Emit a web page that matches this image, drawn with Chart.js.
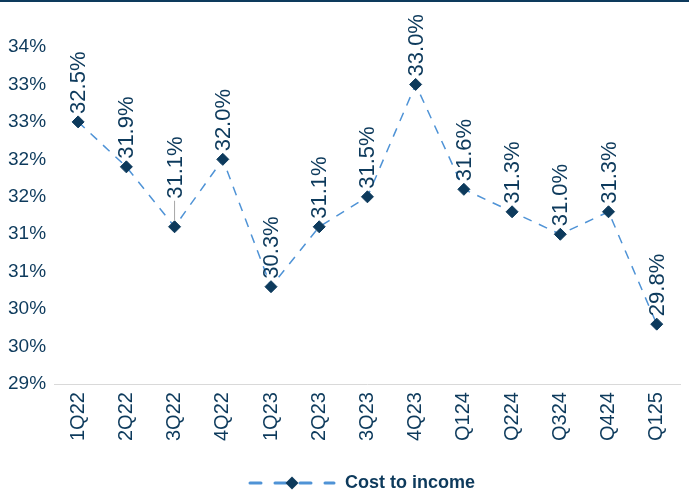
<!DOCTYPE html>
<html>
<head>
<meta charset="utf-8">
<script src="https://cdn.jsdelivr.net/npm/chart.js@4"></script>
<style>
  html, body { margin: 0; padding: 0; background: #fff; overflow: hidden; }
  #wrap { width: 689px; height: 500px; border-top: 2px solid #0d3a5c; }
</style>
</head>
<body>
<div id="wrap"><canvas id="myChart" width="689" height="500"></canvas></div>
<script>
// datos del grafico
const quarters = ['1Q22', '2Q22', '3Q22', '4Q22', '1Q23', '2Q23', '3Q23', '4Q23', 'Q124', 'Q224', 'Q324', 'Q424', 'Q125'];
const costToIncome = [32.5, 31.9, 31.1, 32.0, 30.3, 31.1, 31.5, 33.0, 31.6, 31.3, 31.0, 31.3, 29.8];
const seriesName = 'Cost to income';

const navy = '#0d3a5c';
const lineBlue = '#4f93d6';
Chart.defaults.font.family = '"Liberation Sans", Arial, sans-serif';
Chart.defaults.color = navy;

// icono de la leyenda: linea punteada con rombo (con margen a la izquierda)
const legendIcon = document.createElement('canvas');
legendIcon.width = 124;
legendIcon.height = 14;
(function () {
  const c = legendIcon.getContext('2d');
  const x0 = 36;
  c.strokeStyle = lineBlue;
  c.lineWidth = 3;
  c.lineCap = 'round';
  c.setLineDash([11, 14]);
  c.beginPath();
  c.moveTo(x0 + 2, 7);
  c.lineTo(x0 + 86, 7);
  c.stroke();
  c.fillStyle = navy;
  c.beginPath();
  c.moveTo(x0 + 44, 0.5);
  c.lineTo(x0 + 50.5, 7);
  c.lineTo(x0 + 44, 13.5);
  c.lineTo(x0 + 37.5, 7);
  c.closePath();
  c.fill();
})();

// etiquetas verticales encima de cada punto
const valueLabels = {
  id: 'valueLabels',
  afterDatasetsDraw(chart) {
    const ctx = chart.ctx;
    const meta = chart.getDatasetMeta(0);
    const values = chart.data.datasets[0].data;
    ctx.save();
    ctx.font = '22px "Liberation Sans", Arial, sans-serif';
    ctx.fillStyle = navy;
    ctx.textAlign = 'left';
    ctx.textBaseline = 'middle';
    meta.data.forEach((pt, i) => {
      let gap = 8;
      if (i === 2) {
        // linea guia en 3Q22
        gap = 28;
        ctx.strokeStyle = '#a6a6a6';
        ctx.lineWidth = 1;
        ctx.beginPath();
        ctx.moveTo(pt.x, pt.y - 6);
        ctx.lineTo(pt.x, pt.y - gap + 2);
        ctx.stroke();
      }
      ctx.save();
      ctx.translate(pt.x, pt.y - gap);
      ctx.rotate(-Math.PI / 2);
      ctx.fillText(values[i].toFixed(1) + '%', 0, 1);
      ctx.restore();
    });
    ctx.restore();
  }
};

const config = {
  type: 'line',
  data: {
    labels: quarters,
    datasets: [{
      label: seriesName,
      data: costToIncome,
      borderColor: lineBlue,
      borderWidth: 1.5,
      borderDash: [9, 8],
      fill: false,
      tension: 0,
      pointStyle: 'rectRot',
      pointRadius: 6,
      pointBackgroundColor: navy,
      pointBorderColor: navy,
      pointBorderWidth: 1
    }]
  },
  options: {
    responsive: false,
    animation: false,
    layout: { padding: { top: 45, left: 0, right: 2, bottom: 0 } },
    scales: {
      x: {
        offset: true,
        grid: { display: false, drawTicks: false },
        border: { display: true, color: '#d9d9d9', width: 1 },
        ticks: {
          minRotation: 90,
          maxRotation: 90,
          padding: 8,
          color: navy,
          font: { size: 20 }
        },
        afterFit(scale) { scale.height += 23; }
      },
      y: {
        min: 29,
        max: 33.5,
        grid: { display: false, drawTicks: false },
        border: { display: false },
        ticks: {
          stepSize: 0.5,
          padding: 8,
          color: navy,
          font: { size: 19 },
          callback: (v) => Math.round(v) + '%'
        }
      }
    },
    plugins: {
      legend: {
        position: 'bottom',
        labels: {
          usePointStyle: true,
          pointStyle: legendIcon,
          pointStyleWidth: 124,
          boxHeight: 14,
          padding: 2,
          color: navy,
          font: { size: 18, weight: 'bold' }
        }
      },
      tooltip: { enabled: false }
    }
  },
  plugins: [valueLabels]
};

new Chart(document.getElementById('myChart'), config);
</script>
</body>
</html>
